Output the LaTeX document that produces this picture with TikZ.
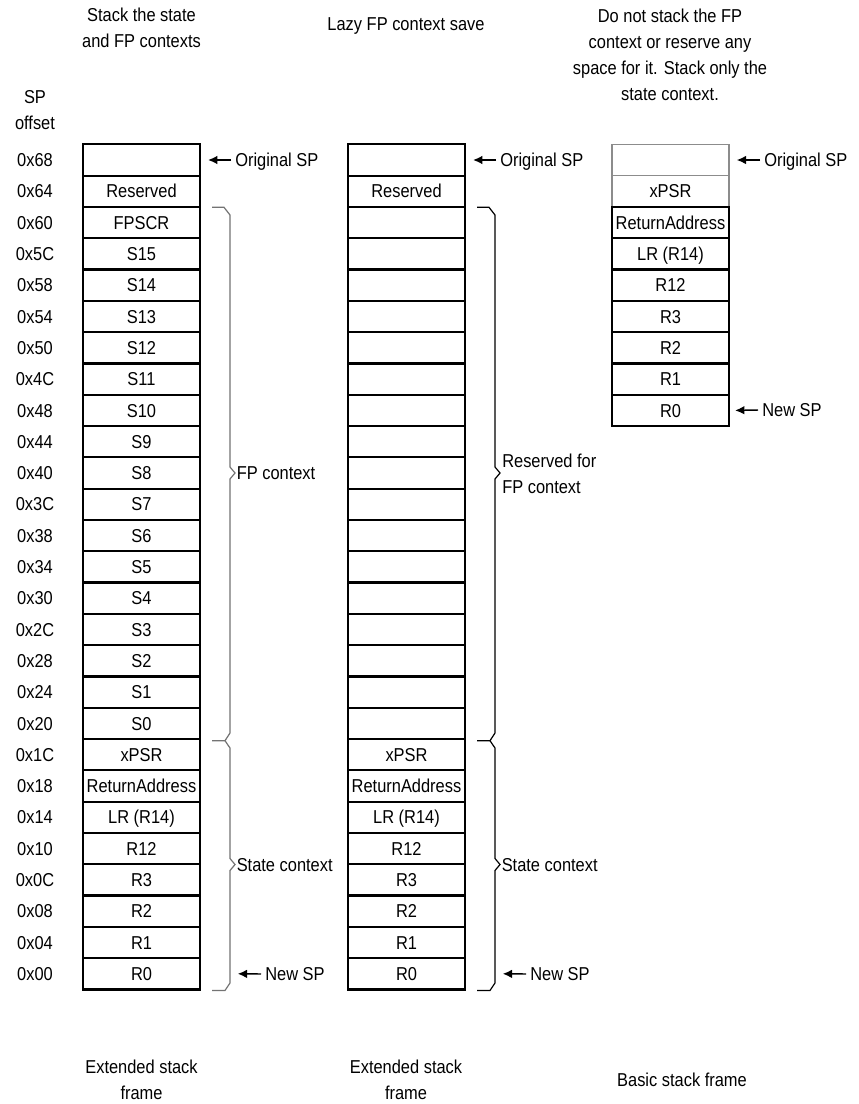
\documentclass[tikz,border=0pt]{standalone}
\usepackage{fontspec}
\setmainfont{Liberation Sans}[FakeStretch=0.88]
\usetikzlibrary{arrows.meta,calc}
\begin{document}
\begin{tikzpicture}[x=0.75pt,y=-0.75pt,
  txt/.style={font=\fontsize{14}{19.5}\selectfont, inner sep=0pt},
  lbl/.style={txt, text height=10pt, text depth=0pt, inner xsep=3pt},
  cell/.style={draw, line width=1.6pt, minimum width=87.75pt, minimum height=23.475pt,
    inner sep=0pt, font=\fontsize{14}{19.5}\selectfont, text height=10pt, text depth=0pt},
  graycell/.style={cell, draw=black!45, line width=1.1pt},
  arr/.style={-{Latex[length=7pt,width=6.5pt]}, line width=1.1pt},
  brc/.style={line width=0.9pt, line join=miter}
]
\fill[white] (0,0) rectangle (859,1104);
\useasboundingbox (0,0) rectangle (859,1104);

% headers
\node[txt, align=center] (h1) at (141.5,28) {Stack the state\\and FP contexts};
\node[txt, align=center] (h2) at (406,26) {Lazy FP context save};
\node[txt, align=center] (h3) at (670,55) {Do not stack the FP\\context or reserve any\\space for it. Stack only the\\state context.};
\node[txt, align=center] (sp) at (35,110) {SP\\offset};

% offsets
\foreach \t [count=\k from 0] in {0x68,0x64,0x60,0x5C,0x58,0x54,0x50,0x4C,0x48,0x44,0x40,0x3C,0x38,0x34,0x30,0x2C,0x28,0x24,0x20,0x1C,0x18,0x14,0x10,0x0C,0x08,0x04,0x00}
  \node[lbl, inner xsep=0pt] (off-\k) at (35,{160+31.3*\k}) {\t};

% column 1
\foreach \t [count=\k from 0] in {{},Reserved,FPSCR,S15,S14,S13,S12,S11,S10,S9,S8,S7,S6,S5,S4,S3,S2,S1,S0,xPSR,ReturnAddress,LR (R14),R12,R3,R2,R1,R0}
  \node[cell] (c1-\k) at (141.5,{160+31.3*\k}) {\t};

% column 2
\foreach \t [count=\k from 0] in {{},Reserved,{},{},{},{},{},{},{},{},{},{},{},{},{},{},{},{},{},xPSR,ReturnAddress,LR (R14),R12,R3,R2,R1,R0}
  \node[cell] (c2-\k) at (406.5,{160+31.3*\k}) {\t};

% column 3
\node[graycell] (c3-0) at (670.5,160) {};
\node[graycell] (c3-1) at (670.5,191.3) {xPSR};
\foreach \t [count=\k from 2] in {ReturnAddress,LR (R14),R12,R3,R2,R1,R0}
  \node[cell] (c3-\k) at (670.5,{160+31.3*\k}) {\t};

% braces column 1
\draw[brc, draw=black!55] (212,207.3) -- (224,207.3) -- (230,215) -- (230,467) -- (235,473) -- (230,479) -- (230,733) -- (225,740.7) -- (212,740.7);
\draw[brc, draw=black!55] (225,740.7) -- (230,748) -- (230,858.5) -- (235,864.5) -- (230,870.5) -- (230,983) -- (225,990.5) -- (212,990.5);
% braces column 2
\begin{scope}[xshift=198.75pt]
\draw[brc] (212,207.3) -- (224,207.3) -- (230,215) -- (230,467) -- (235,473) -- (230,479) -- (230,733) -- (225,740.7) -- (212,740.7);
\draw[brc] (225,740.7) -- (230,748) -- (230,858.5) -- (235,864.5) -- (230,870.5) -- (230,983) -- (225,990.5) -- (212,990.5);
\end{scope}

\node[lbl, anchor=west, inner xsep=0pt] (fp1) at (236.5,473) {FP context};
\node[lbl, anchor=west, inner xsep=0pt] (st1) at (236.5,865) {State context};
\node[txt, anchor=west, align=left] (fp2) at (502,474) {Reserved for\\FP context};
\node[lbl, anchor=west, inner xsep=0pt] (st2) at (501.5,865) {State context};

% SP arrows
\node[lbl, anchor=west] (o1) at (231,160) {Original SP};
\draw[arr] (o1.west) -- ([xshift=5.25pt]c1-0.east);
\node[lbl, anchor=west] (n1) at (261,974) {New SP};
\draw[arr] (n1.west) -- ([xshift=27.5pt]c1-26.east);
\node[lbl, anchor=west] (o2) at (496,160) {Original SP};
\draw[arr] (o2.west) -- ([xshift=5.25pt]c2-0.east);
\node[lbl, anchor=west] (n2) at (526,974) {New SP};
\draw[arr] (n2.west) -- ([xshift=27.5pt]c2-26.east);
\node[lbl, anchor=west] (o3) at (760,160) {Original SP};
\draw[arr] (o3.west) -- ([xshift=5.25pt]c3-0.east);
\node[lbl, anchor=west] (n3) at (758,410) {New SP};
\draw[arr] (n3.west) -- ([xshift=3.75pt]c3-8.east);

% footers
\node[txt, align=center] (f1) at (141.5,1080) {Extended stack\\frame};
\node[txt, align=center] (f2) at (406,1080) {Extended stack\\frame};
\node[txt, align=center] (f3) at (682,1080) {Basic stack frame};
\end{tikzpicture}
\end{document}
